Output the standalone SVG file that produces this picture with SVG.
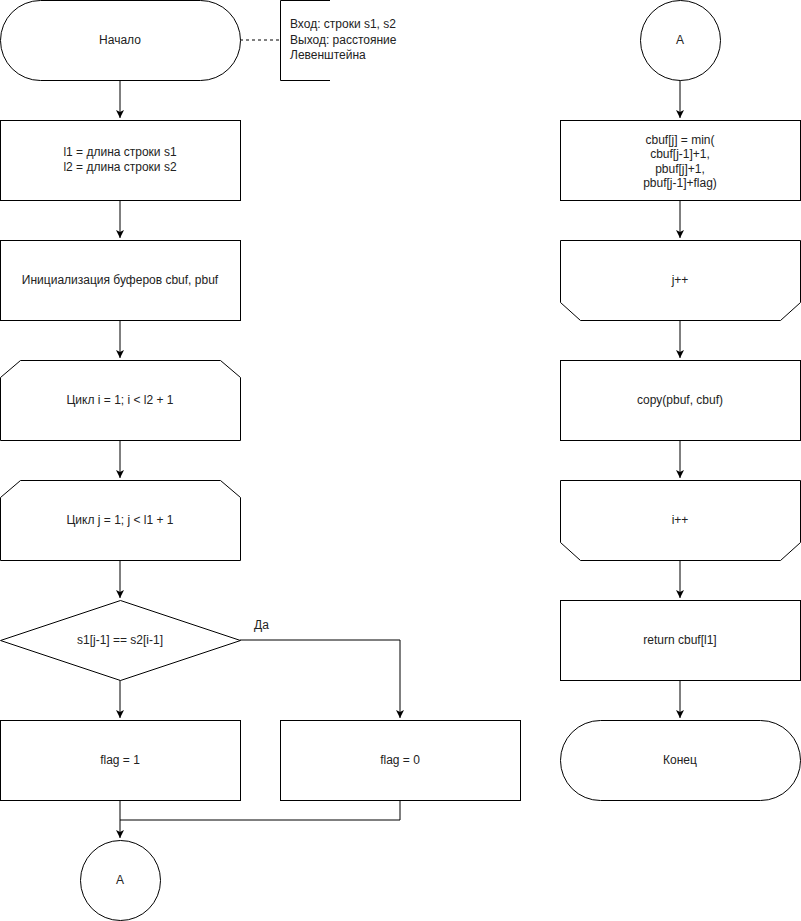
<svg xmlns="http://www.w3.org/2000/svg" width="801" height="921" viewBox="0 0 801 921">
<defs>
<marker id="arr" markerUnits="userSpaceOnUse" markerWidth="10" markerHeight="10" refX="8" refY="4" orient="auto">
<path d="M0,0 L8,4 L0,8 L2,4 Z" fill="#000"/>
</marker>
<style>
.s{fill:#fff;stroke:#000;stroke-width:1}
.t{font-family:"Liberation Sans",Arial,sans-serif;font-size:12px;fill:#222;text-anchor:middle}
.l{font-family:"Liberation Sans",Arial,sans-serif;font-size:12px;fill:#222}
.e{fill:none;stroke:#000;stroke-width:1}
</style>
</defs>
<rect width="801" height="921" fill="#fff"/>
<g id="connectors">
<line class="e" x1="240" y1="40" x2="280" y2="40" stroke-dasharray="3,3"/>
<line class="e" x1="120" y1="80" x2="120" y2="118" marker-end="url(#arr)"/>
<line class="e" x1="120" y1="200" x2="120" y2="238" marker-end="url(#arr)"/>
<line class="e" x1="120" y1="320" x2="120" y2="358" marker-end="url(#arr)"/>
<line class="e" x1="120" y1="440" x2="120" y2="478" marker-end="url(#arr)"/>
<line class="e" x1="120" y1="560" x2="120" y2="598" marker-end="url(#arr)"/>
<line class="e" x1="120" y1="680" x2="120" y2="718" marker-end="url(#arr)"/>
<polyline class="e" points="240,640 400,640 400,718" marker-end="url(#arr)"/>
<text class="l" x="254" y="629">Да</text>
<line class="e" x1="120" y1="800" x2="120" y2="838" marker-end="url(#arr)"/>
<polyline class="e" points="400,800 400,820 120,820"/>
<line class="e" x1="680" y1="80" x2="680" y2="118" marker-end="url(#arr)"/>
<line class="e" x1="680" y1="200" x2="680" y2="238" marker-end="url(#arr)"/>
<line class="e" x1="680" y1="320" x2="680" y2="358" marker-end="url(#arr)"/>
<line class="e" x1="680" y1="440" x2="680" y2="478" marker-end="url(#arr)"/>
<line class="e" x1="680" y1="560" x2="680" y2="598" marker-end="url(#arr)"/>
<line class="e" x1="680" y1="680" x2="680" y2="718" marker-end="url(#arr)"/>
</g>
<g id="start">
<rect class="s" x="0.5" y="0.5" width="240" height="80" rx="40" ry="40"/>
<text class="t" x="120" y="44">Начало</text>
</g>
<g id="comment">
<polyline class="e" points="330,0.5 280.5,0.5 280.5,80.5 330,80.5"/>
<text class="l" x="290" y="28">Вход: строки s1, s2</text>
<text class="l" x="290" y="44">Выход: расстояние</text>
<text class="l" x="290" y="59">Левенштейна</text>
</g>
<g id="lens">
<rect class="s" x="0.5" y="120.5" width="240" height="80"/>
<text class="t" x="120" y="156">l1 = длина строки s1</text>
<text class="t" x="120" y="171">l2 = длина строки s2</text>
</g>
<g id="init">
<rect class="s" x="0.5" y="240.5" width="240" height="80"/>
<text class="t" x="120" y="284">Инициализация буферов cbuf, pbuf</text>
</g>
<g id="loopi">
<path class="s" d="M20.5,360.5 H220.5 L240.5,377.5 V440.5 H0.5 V377.5 Z"/>
<text class="t" x="120" y="404">Цикл i = 1; i &lt; l2 + 1</text>
</g>
<g id="loopj">
<path class="s" d="M20.5,480.5 H220.5 L240.5,497.5 V560.5 H0.5 V497.5 Z"/>
<text class="t" x="120" y="524">Цикл j = 1; j &lt; l1 + 1</text>
</g>
<g id="decision">
<path class="s" d="M120.5,600.5 L240.5,640.5 L120.5,680.5 L0.5,640.5 Z"/>
<text class="t" x="120" y="644">s1[j-1] == s2[i-1]</text>
</g>
<g id="flag1">
<rect class="s" x="0.5" y="720.5" width="240" height="80"/>
<text class="t" x="120" y="764">flag = 1</text>
</g>
<g id="flag0">
<rect class="s" x="280.5" y="720.5" width="240" height="80"/>
<text class="t" x="400" y="764">flag = 0</text>
</g>
<g id="connA1">
<circle class="s" cx="120.5" cy="880.5" r="40"/>
<text class="t" x="120" y="884">A</text>
</g>
<g id="connA2">
<circle class="s" cx="680.5" cy="40.5" r="40"/>
<text class="t" x="680" y="44">A</text>
</g>
<g id="cbuf">
<rect class="s" x="560.5" y="120.5" width="240" height="80"/>
<text class="t" x="680" y="144">cbuf[j] = min(</text>
<text class="t" x="680" y="158">cbuf[j-1]+1,</text>
<text class="t" x="680" y="173">pbuf[j]+1,</text>
<text class="t" x="680" y="187">pbuf[j-1]+flag)</text>
</g>
<g id="jinc">
<path class="s" d="M560.5,240.5 H800.5 V302.5 L780.5,320.5 H580.5 L560.5,302.5 Z"/>
<text class="t" x="680" y="284">j++</text>
</g>
<g id="copy">
<rect class="s" x="560.5" y="360.5" width="240" height="80"/>
<text class="t" x="680" y="404">copy(pbuf, cbuf)</text>
</g>
<g id="iinc">
<path class="s" d="M560.5,480.5 H800.5 V542.5 L780.5,560.5 H580.5 L560.5,542.5 Z"/>
<text class="t" x="680" y="524">i++</text>
</g>
<g id="ret">
<rect class="s" x="560.5" y="600.5" width="240" height="80"/>
<text class="t" x="680" y="644">return cbuf[l1]</text>
</g>
<g id="end">
<rect class="s" x="560.5" y="720.5" width="240" height="80" rx="40" ry="40"/>
<text class="t" x="680" y="764">Конец</text>
</g>
</svg>
